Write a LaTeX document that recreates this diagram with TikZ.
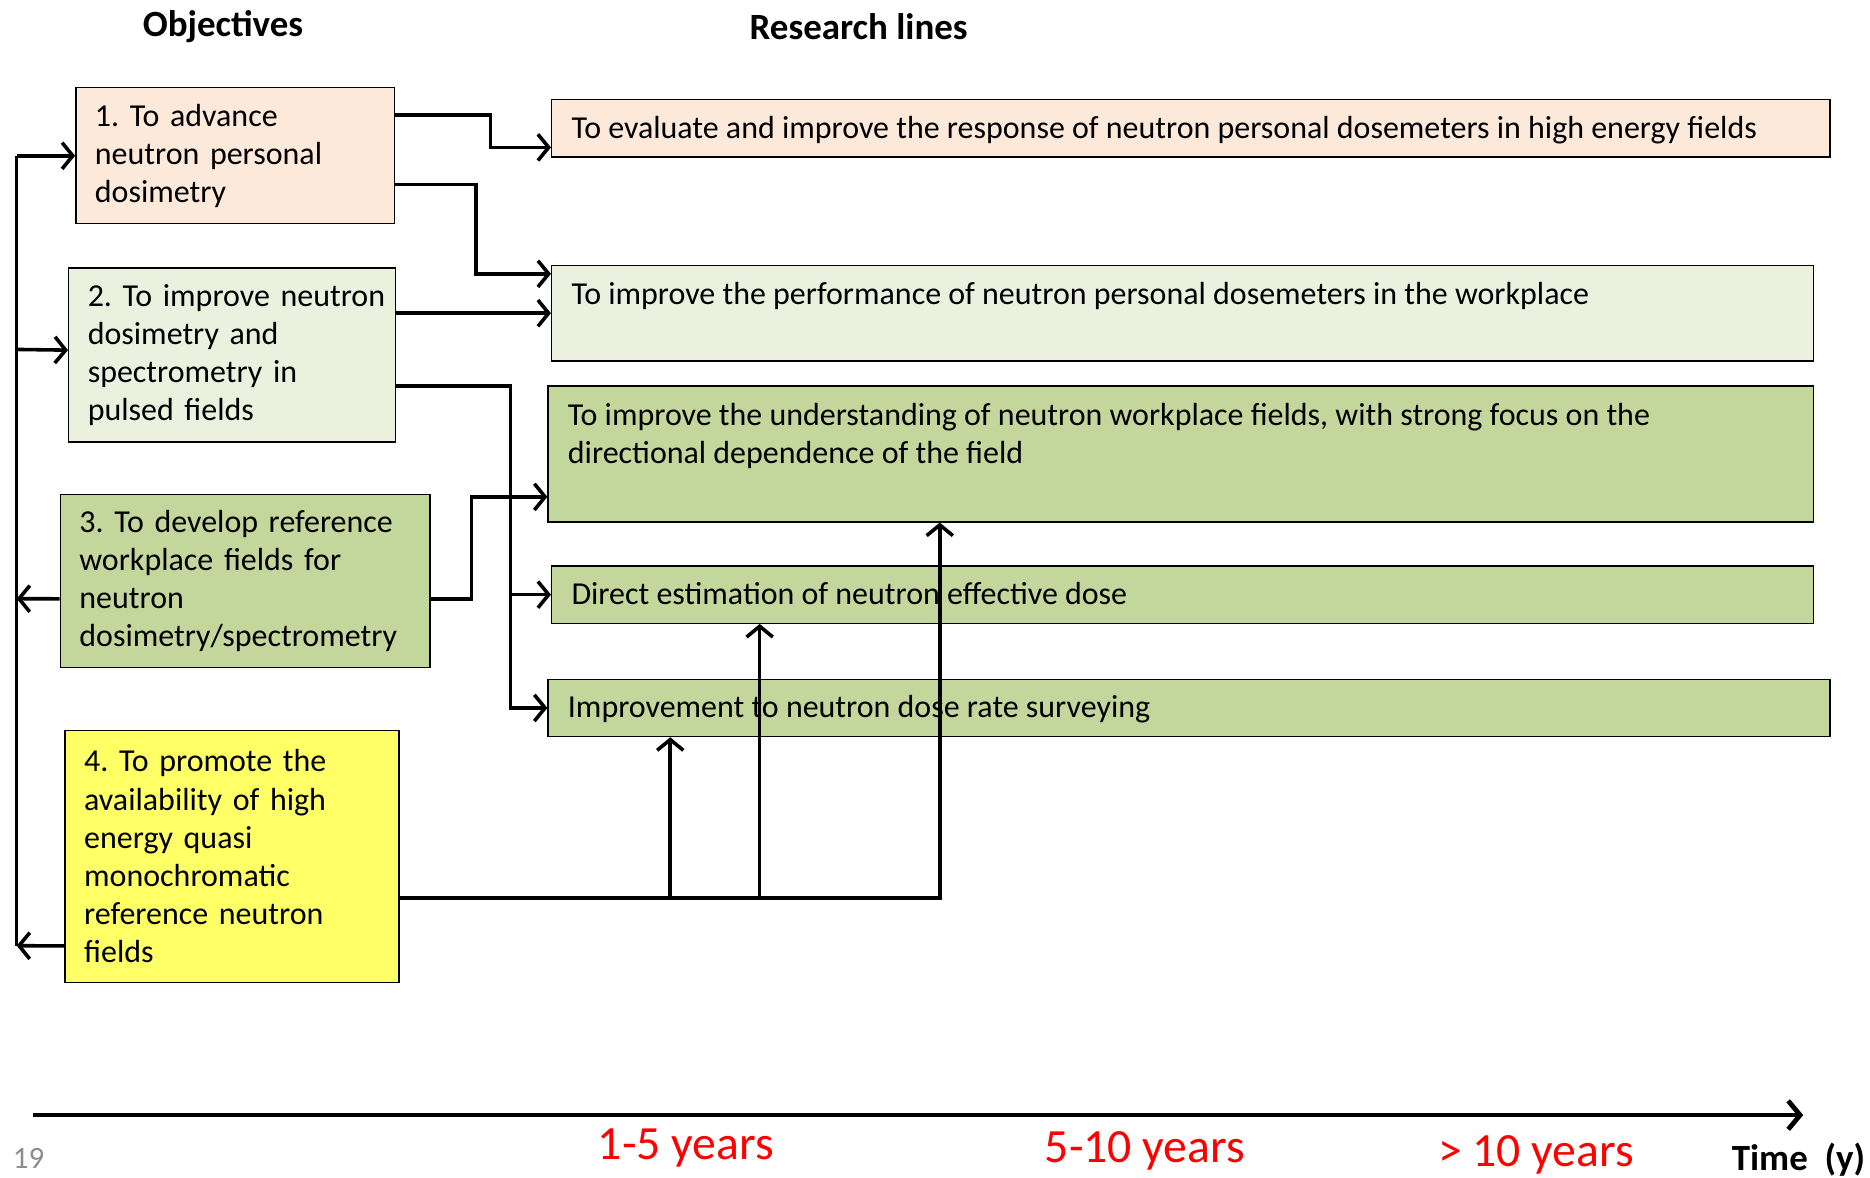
\documentclass[tikz,border=0pt]{standalone}
\usepackage{fontspec}
\setmainfont{Carlito}
\usetikzlibrary{arrows.meta,calc}
\definecolor{peach}{HTML}{FDE9D9}
\definecolor{palegreen}{HTML}{EBF1DE}
\definecolor{midgreen}{HTML}{C3D69B}
\definecolor{lemon}{HTML}{FFFF66}
\definecolor{slidegray}{HTML}{8C8C8C}
\definecolor{yearred}{HTML}{FF0000}
\frenchspacing
\begin{document}
\begin{tikzpicture}[x=1pt,y=-1pt,
  boxtext/.style={font=\fontsize{26.8}{32}\selectfont},
  objbox/.style={boxtext, draw=black, line width=1.2pt, anchor=north west,
    inner xsep=16pt, inner ysep=0pt, align=left},
  rbox/.style={draw=black, line width=1.2pt, anchor=north west, inner sep=0pt},
  rtext/.style={boxtext, anchor=base west, inner sep=0pt, align=left},
  heading/.style={font=\fontsize{31}{34}\selectfont\bfseries},
  years/.style={font=\fontsize{40}{44}\selectfont, text=yearred},
  line/.style={line width=3pt, line join=miter},
  conn/.style={line, -{Straight Barb[length=9pt,width=22pt]}},
]
\useasboundingbox (0,0) rectangle (1568,987);

% column headings
\node[heading] (hobj) at (187,22) {Objectives};
\node[heading] (hres) at (720,22) {Research lines};

% objectives
\node[objbox, fill=peach, minimum width=267pt, minimum height=114pt, text width=235pt]
  (o1) at (63,73) {1. To advance\\neutron personal\\dosimetry};
\node[objbox, fill=palegreen, minimum width=274pt, minimum height=146pt, text width=242pt]
  (o2) at (57,224) {\mbox{2. To improve neutron}\\dosimetry and\\spectrometry in\\pulsed fields};
\node[objbox, fill=midgreen, minimum width=310pt, minimum height=145pt, text width=278pt]
  (o3) at (50,414) {3. To develop reference\\workplace fields for\\neutron\\dosimetry/spectrometry};
\node[objbox, fill=lemon, minimum width=280pt, minimum height=211pt, text width=248pt]
  (o4) at (54,612) {4. To promote the\\availability of high\\energy quasi\\monochromatic\\reference neutron\\fields};

% research lines
\node[rbox, fill=peach, minimum width=1072pt, minimum height=48pt] (r1) at (462,83) {};
\node[rtext] (t1) at ([xshift=17pt,yshift=-33pt]r1.north west)
  {To evaluate and improve the response of neutron personal dosemeters in high energy fields};
\node[rbox, fill=palegreen, minimum width=1058pt, minimum height=80pt] (r2) at (462,222) {};
\node[rtext] (t2) at ([xshift=17pt,yshift=-33pt]r2.north west)
  {To improve the performance of neutron personal dosemeters in the workplace};
\node[rbox, fill=midgreen, minimum width=1061pt, minimum height=114pt] (r3) at (459,323) {};
\node[rtext] (t3) at ([xshift=17pt,yshift=-66pt]r3.north west)
  {To improve the understanding of neutron workplace fields, with strong focus on the\\directional dependence of the field};
\node[rbox, fill=midgreen, minimum width=1058pt, minimum height=48pt] (r4) at (462,474) {};
\node[rtext] (t4) at ([xshift=17pt,yshift=-33pt]r4.north west)
  {Direct estimation of neutron effective dose};
\node[rbox, fill=midgreen, minimum width=1075pt, minimum height=48pt] (r5) at (459,569) {};
\node[rtext] (t5) at ([xshift=17pt,yshift=-33pt]r5.north west)
  {Improvement to neutron dose rate surveying};

% objective 1 -> research lines
\draw[conn] ([yshift=34pt]o1.east) -- ++(80pt,0pt) |- ([yshift=-16pt]r1.west);
\draw[conn] ([yshift=-24pt]o1.east) -- ++(68pt,0pt) |- ([yshift=33pt]r2.west);

% objective 2 -> research lines
\draw[conn] (o2.east |- r2.west) -- (r2.west);
\coordinate (v2) at ([yshift=-26pt,xshift=96pt]o2.east);
\draw[conn] ([yshift=-26pt]o2.east) -- (v2) |- (r5.west);
\draw[conn] (v2 |- r4.west) -- (r4.west);

% objective 3 -> research line 3
\draw[conn] ([yshift=-15pt]o3.east) -- ++(34pt,0pt) |- ([yshift=-36pt]r3.west);

% feedback bus on the left
\coordinate (bus) at (14,0);
\draw[line] (bus |- o1.west) -- (bus |- 0,793);
\draw[conn] (bus |- o1.west) -- (o1.west);
\draw[conn] (bus |- 0,293) -- ([yshift=4pt]o2.west);
\draw[conn] ([yshift=-15pt]o3.west) -- (bus |- 0,502);
\draw[conn] ([yshift=-75pt]o4.west) -- (bus |- 0,793);

% objective 4 -> research lines 3, 4 and 5
\coordinate (p5) at ([xshift=103pt]r5.south west);
\coordinate (p4) at ([xshift=175pt]r4.south west);
\coordinate (p3) at ([xshift=329pt]r3.south west);
\coordinate (h) at ([yshift=-35pt]o4.east);
\draw[conn] (h) -| (p3);
\draw[conn] (h -| p5) -- (p5);
\draw[conn] (h -| p4) -- (p4);

% time axis
\coordinate (ax0) at (28,935);
\coordinate (ax1) at (1512,935);
\draw[line width=4pt, -{Straight Barb[length=10pt,width=24pt]}] (ax0) -- (ax1);
\node[years] (y1) at (575,963) {1-5 years};
\node[years] (y2) at (960,965) {5-10 years};
\node[years] (y3) at (1288,968) {> 10 years};
\node[heading] (tl) at (1508,972) {Time\ \ (y)};
\node[font=\fontsize{26}{30}\selectfont, text=slidegray] (pg) at (24,971) {19};
\end{tikzpicture}
\end{document}
